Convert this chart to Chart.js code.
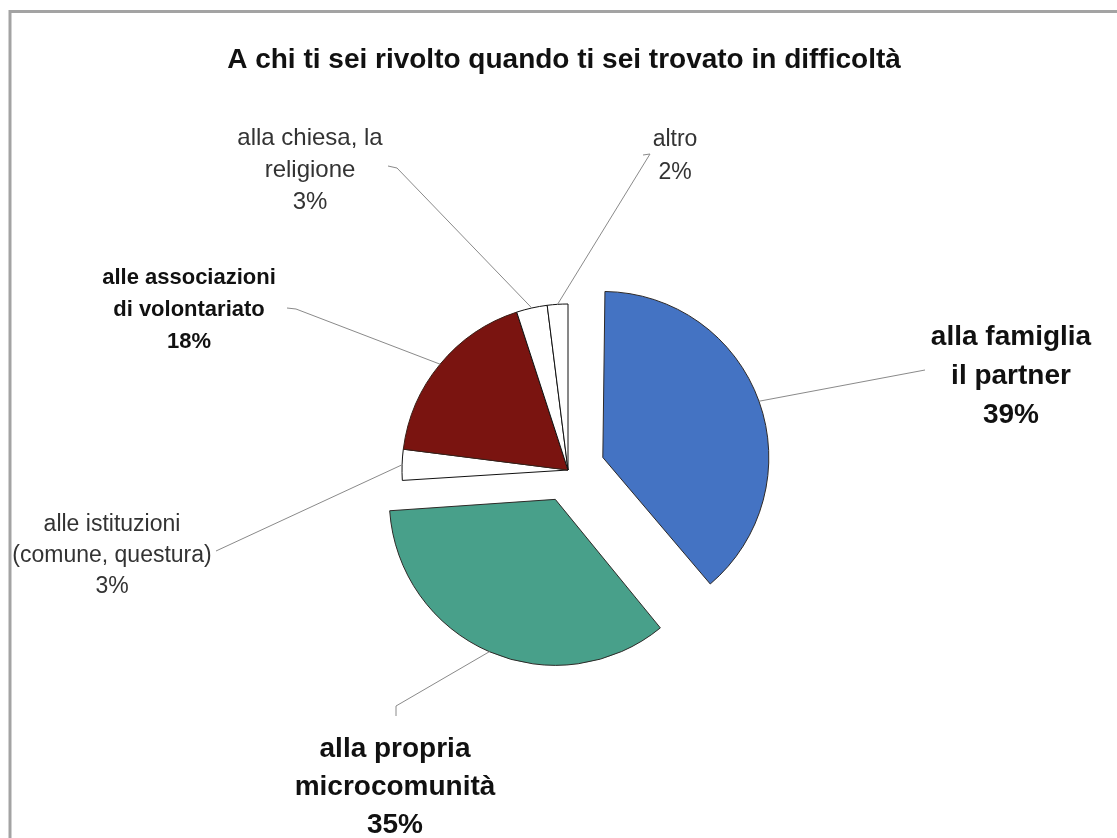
<!DOCTYPE html>
<html><head><meta charset="utf-8">
<script src="https://cdn.jsdelivr.net/npm/chart.js@4"></script>
<style>html,body{margin:0;padding:0;background:#fff}canvas{display:block}</style>
</head><body>
<canvas id="c" width="1117" height="838"></canvas>
<script>
const title = 'A chi ti sei rivolto quando ti sei trovato in difficoltà';
const categories = ['alla famiglia\nil partner', 'alla propria\nmicrocomunità', 'alle istituzioni\n(comune, questura)', 'alle associazioni\ndi volontariato', 'alla chiesa, la\nreligione', 'altro'];
const values = [39, 35, 3, 18, 3, 2];
const colors = ['#4473c3', '#48a08a', '#ffffff', '#7a1410', '#ffffff', '#ffffff'];
const borders = ['#2e2a28', '#2e2a28', '#111111', '#3a2018', '#111111', '#111111'];
// Chart.js v4 translates an arc by offset/4 px
const explode = [148, 128, 0, 0, 0, 0];
const RADIUS = 166;

const FONT = '"Liberation Sans", Arial, sans-serif';
const labelLayout = [
  {x: 1011, y: 337, lh: 39, font: 'bold 28px ' + FONT, color: '#111', path: [[925, 370]]},
  {x: 395, y: 749, lh: 38, font: 'bold 28px ' + FONT, color: '#111', path: [[396, 716], [396, 706]]},
  {x: 112, y: 525, lh: 31, font: '23px ' + FONT, color: '#333', path: [[216, 551]]},
  {x: 189, y: 278, lh: 32, font: 'bold 22px ' + FONT, color: '#111', path: [[287, 308], [296, 309]]},
  {x: 310, y: 138, lh: 32, font: '24px ' + FONT, color: '#333', path: [[388, 166], [397, 168]]},
  {x: 675, y: 140, lh: 33, font: '23px ' + FONT, color: '#333', path: [[643, 155], [650, 154]]}
];

const decor = {
  id: 'decor',
  beforeDraw(chart) {
    const ctx = chart.ctx;
    ctx.save();
    ctx.fillStyle = '#fff';
    ctx.fillRect(0, 0, chart.width, chart.height);
    ctx.strokeStyle = '#a3a3a3';
    ctx.lineWidth = 3;
    ctx.beginPath();
    ctx.moveTo(10, 838);
    ctx.lineTo(10, 11.5);
    ctx.lineTo(1117, 11.5);
    ctx.stroke();
    ctx.fillStyle = '#111';
    ctx.font = 'bold 28px ' + FONT;
    ctx.textAlign = 'center';
    ctx.textBaseline = 'alphabetic';
    ctx.fillText(title, 564, 68);
    ctx.restore();
  },
  beforeDatasetsDraw(chart) {
    // keep exploded slices at the same radius as the others
    chart.getDatasetMeta(0).data.forEach(arc => {
      const off = (arc.options.offset || 0) / 4;
      const fix = 1 - Math.sin(Math.min(Math.PI, arc.circumference || 0));
      arc.outerRadius = RADIUS - off * fix;
    });
  },
  afterDatasetsDraw(chart) {
    const ctx = chart.ctx;
    const meta = chart.getDatasetMeta(0);
    ctx.save();
    meta.data.forEach((arc, i) => {
      const p = arc.getProps(['x', 'y', 'startAngle', 'endAngle'], true);
      const mid = (p.startAngle + p.endAngle) / 2;
      const off = (arc.options.offset || 0) / 4;
      const ex = p.x + Math.cos(mid) * (RADIUS + off);
      const ey = p.y + Math.sin(mid) * (RADIUS + off);
      const L = labelLayout[i];
      ctx.strokeStyle = '#8a8a8a';
      ctx.lineWidth = 1;
      ctx.beginPath();
      L.path.forEach((pt, k) => k === 0 ? ctx.moveTo(pt[0], pt[1]) : ctx.lineTo(pt[0], pt[1]));
      ctx.lineTo(ex, ey);
      ctx.stroke();
      const lines = categories[i].split('\n').concat([values[i] + '%']);
      ctx.font = L.font;
      ctx.fillStyle = L.color;
      ctx.textAlign = 'center';
      ctx.textBaseline = 'middle';
      lines.forEach((t, k) => ctx.fillText(t, L.x, L.y + k * L.lh));
    });
    ctx.restore();
  }
};

new Chart(document.getElementById('c'), {
  type: 'pie',
  data: {
    labels: categories,
    datasets: [{
      data: values,
      backgroundColor: colors,
      borderColor: borders,
      borderWidth: 1,
      offset: explode,
      hoverOffset: 0
    }]
  },
  options: {
    responsive: false,
    animation: false,
    radius: RADIUS,
    layout: {padding: {left: 200, right: 181, top: 270, bottom: 168}},
    plugins: {legend: {display: false}, title: {display: false}, tooltip: {enabled: false}}
  },
  plugins: [decor]
});
</script>
</body></html>
